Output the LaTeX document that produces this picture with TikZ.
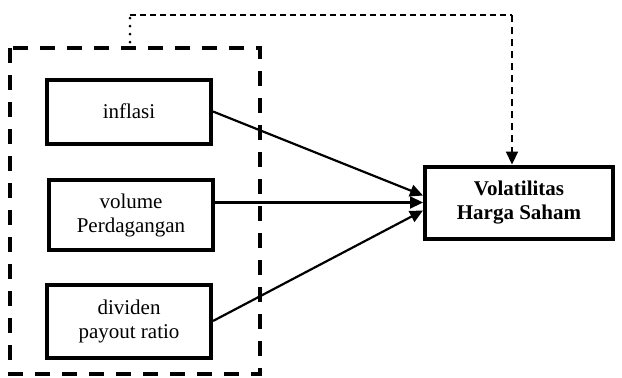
\documentclass[tikz,border=0pt]{standalone}
\usepackage{fontspec}
\setmainfont{Liberation Serif}
\usetikzlibrary{arrows.meta}
\begin{document}
\begin{tikzpicture}[x=1pt,y=-1pt,
  box/.style={draw,line width=4pt,minimum width=#1,align=center,inner sep=0pt,font=\fontsize{21}{24}\selectfont},
  arr/.style={line width=2.2pt,-{Triangle[length=13pt,width=12pt]}}]
\useasboundingbox (0,0) rectangle (622,378);
\draw[line width=4pt,dash pattern=on 15pt off 12pt] (10,48) rectangle (260,374);
\node[box=164pt,minimum height=64pt] (inf) at (129,111.5) {inflasi};
\node[box=164pt,minimum height=70pt] (vol) at (131,215) {volume\\Perdagangan};
\node[box=164pt,minimum height=73pt] (div) at (129,321) {dividen\\payout ratio};
\node[box=188pt,minimum height=72pt,font=\fontsize{21}{24}\selectfont\bfseries] (vhs) at (519,202.5) {Volatilitas\\Harga Saham};
\coordinate (d0) at (130,42);
\coordinate (d1) at (130,15);
\coordinate (d2) at (512,15);
\draw[line width=3pt,dash pattern=on 0pt off 8pt,line cap=round] (d0) -- (d1);
\draw[line width=2.2pt,dash pattern=on 6pt off 4pt] (d1) -- (d2);
\draw[arr,dash pattern=on 7pt off 5pt] (d2) -- (d2 |- vhs.north);
\draw[arr] (inf.east) -- ([yshift=7pt]vhs.west);
\draw[arr] (vol.east |- vhs.west) -- (vhs.west);
\draw[arr] (div.east) -- ([yshift=-8pt]vhs.west);
\end{tikzpicture}
\end{document}
